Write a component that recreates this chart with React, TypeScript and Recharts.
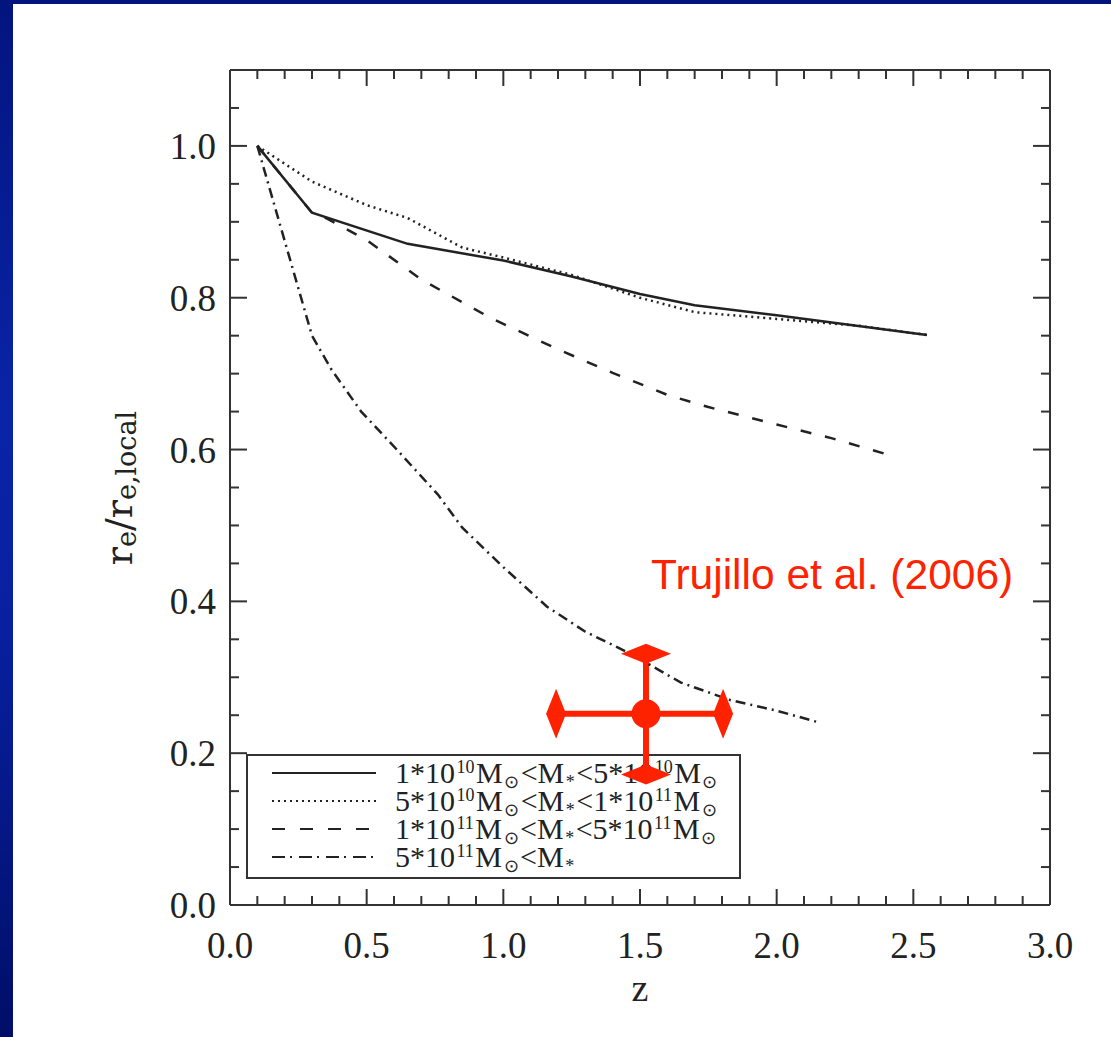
import React from 'react';
import { ComposedChart, Line, Scatter, XAxis, YAxis, ReferenceLine, ReferenceDot, Legend } from 'recharts';

// redshift vs size ratio
const lowZ = [0.1, 0.3, 0.65, 1.0, 1.25, 1.5, 1.7, 2.0, 2.55];
const lowR = [1.0, 0.912, 0.871, 0.849, 0.828, 0.805, 0.79, 0.777, 0.751];

const midZ = [0.1, 0.3, 0.5, 0.65, 0.85, 1.0, 1.25, 1.5, 1.7, 2.0, 2.3, 2.55];
const midR = [1.0, 0.953, 0.922, 0.905, 0.866, 0.853, 0.83, 0.8, 0.781, 0.772, 0.763, 0.751];

const highZ = [0.1, 0.3, 0.35, 0.5, 0.7, 0.95, 1.2, 1.4, 1.6, 1.75, 2.0, 2.2, 2.4];
const highR = [1.0, 0.912, 0.905, 0.876, 0.824, 0.774, 0.732, 0.701, 0.672, 0.656, 0.633, 0.615, 0.594];

const topZ = [0.1, 0.3, 0.37, 0.48, 0.61, 0.76, 0.85, 1.0, 1.16, 1.3, 1.46, 1.65, 1.83, 2.0, 2.15];
const topR = [1.0, 0.75, 0.706, 0.65, 0.6, 0.541, 0.497, 0.445, 0.393, 0.36, 0.332, 0.293, 0.27, 0.256, 0.241];

// Trujillo et al. (2006) point with error bars
const trujilloZ = 1.522;
const trujilloR = 0.252;
const trujilloZLow = 1.193;
const trujilloZHigh = 1.804;
const trujilloRLow = 0.172;
const trujilloRHigh = 0.331;

const xTicks = [0, 0.1, 0.2, 0.3, 0.4, 0.5, 0.6, 0.7, 0.8, 0.9, 1.0, 1.1, 1.2, 1.3, 1.4, 1.5, 1.6, 1.7, 1.8, 1.9, 2.0, 2.1, 2.2, 2.3, 2.4, 2.5, 2.6, 2.7, 2.8, 2.9, 3.0];
const yTicks = [0, 0.05, 0.1, 0.15, 0.2, 0.25, 0.3, 0.35, 0.4, 0.45, 0.5, 0.55, 0.6, 0.65, 0.7, 0.75, 0.8, 0.85, 0.9, 0.95, 1.0, 1.05, 1.1];

const RED = '#ff2200';
const INK = '#222';
const FRAME = '#333';

const toPoints = (zs: number[], rs: number[]) => zs.map((z, i) => ({ z, r: rs[i] }));

const isMajorX = (v: number) => Math.abs(v * 2 - Math.round(v * 2)) < 1e-6;
const isMajorY = (v: number) => Math.abs(v * 5 - Math.round(v * 5)) < 1e-6;

const tickFont = { fontFamily: '"Liberation Serif", serif', fontSize: 37, fill: INK };

const BottomTick = ({ x, y, payload }: any) => {
    const major = isMajorX(payload.value);
    return (
        <g>
            <line x1={x} y1={y} x2={x} y2={y - (major ? 16 : 9)} stroke={FRAME} strokeWidth={2} />
            {major && <text x={x} y={y + 53} textAnchor="middle" {...tickFont}>{payload.value.toFixed(1)}</text>}
        </g>
    );
};

const TopTick = ({ x, y, payload }: any) => {
    const major = isMajorX(payload.value);
    return <line x1={x} y1={y} x2={x} y2={y + (major ? 16 : 9)} stroke={FRAME} strokeWidth={2} />;
};

const LeftTick = ({ x, y, payload }: any) => {
    const major = isMajorY(payload.value) && payload.value < 1.05;
    return (
        <g>
            <line x1={x} y1={y} x2={x + (major ? 17 : 9)} y2={y} stroke={FRAME} strokeWidth={2} />
            {major && <text x={x - 14} y={y + 13} textAnchor="end" {...tickFont}>{payload.value.toFixed(1)}</text>}
        </g>
    );
};

const RightTick = ({ x, y, payload }: any) => {
    const major = isMajorY(payload.value);
    return <line x1={x} y1={y} x2={x - (major ? 17 : 9)} y2={y} stroke={FRAME} strokeWidth={2} />;
};

const Diamond = ({ cx, cy, payload }: any) => {
    const w = payload.dir === 'h' ? 10 : 25;
    const h = payload.dir === 'h' ? 25 : 10;
    return <polygon points={`${cx - w},${cy} ${cx},${cy - h} ${cx + w},${cy} ${cx},${cy + h}`} fill={RED} />;
};

const Dotshape = ({ cx, cy }: any) => <circle cx={cx} cy={cy} r={14.5} fill={RED} />;

type Seg = [string, 'n' | 'sup' | 'sub'];
const shift = { n: 0, sup: -10, sub: 5 };

const Rich = ({ x, y, segs, size }: { x: number; y: number; segs: Seg[]; size: number }) => {
    let cur = 0;
    return (
        <text x={x} y={y} fontFamily='"Liberation Serif", serif' fontSize={size} fill={INK}>
            {segs.map(([t, k], i) => {
                const dy = shift[k] - cur;
                cur = shift[k];
                return (
                    <tspan key={i} dx={i === 0 ? 0 : 1.5} dy={dy} fontSize={k === 'n' ? size : size * 0.6}>{t}</tspan>
                );
            })}
        </text>
    );
};

const legendRows: { dash: string; segs: Seg[] }[] = [
    { dash: '', segs: [['1*10', 'n'], ['10', 'sup'], ['M', 'n'], ['⊙', 'sub'], ['<M', 'n'], ['*', 'sub'], ['<5*10', 'n'], ['10', 'sup'], ['M', 'n'], ['⊙', 'sub']] },
    { dash: '2 4', segs: [['5*10', 'n'], ['10', 'sup'], ['M', 'n'], ['⊙', 'sub'], ['<M', 'n'], ['*', 'sub'], ['<1*10', 'n'], ['11', 'sup'], ['M', 'n'], ['⊙', 'sub']] },
    { dash: '13 15', segs: [['1*10', 'n'], ['11', 'sup'], ['M', 'n'], ['⊙', 'sub'], ['<M', 'n'], ['*', 'sub'], ['<5*10', 'n'], ['11', 'sup'], ['M', 'n'], ['⊙', 'sub']] },
    { dash: '13 5 2 7', segs: [['5*10', 'n'], ['11', 'sup'], ['M', 'n'], ['⊙', 'sub'], ['<M', 'n'], ['*', 'sub']] },
];

const LegendBox = () => (
    <svg width={495} height={125} style={{ display: 'block' }}>
        <rect x={1} y={1} width={493} height={123} fill="none" stroke={FRAME} strokeWidth={2} />
        {legendRows.map((row, i) => {
            const cy = 19 + i * 28;
            return (
                <g key={i}>
                    <line x1={26} y1={cy} x2={130} y2={cy} stroke={INK} strokeWidth={2} strokeDasharray={row.dash || undefined} />
                    <Rich x={149} y={cy + 10} segs={row.segs} size={30} />
                </g>
            );
        })}
    </svg>
);

const YTitle = ({ viewBox }: any) => {
    const cx = viewBox.x + 12;
    const cy = 488;
    return (
        <text x={cx} y={cy} textAnchor="middle" transform={`rotate(-90, ${cx}, ${cy})`} fontFamily='"DejaVu Serif", serif' fill={INK}>
            <tspan fontSize={38}>r</tspan>
            <tspan fontSize={27} dy={4}>e</tspan>
            <tspan fontSize={38} dy={-4}>/</tspan>
            <tspan fontSize={38}>r</tspan>
            <tspan fontSize={27} dy={4}>e,local</tspan>
        </text>
    );
};

const XTitle = ({ viewBox }: any) => (
    <text x={viewBox.x + viewBox.width / 2} y={viewBox.y + 96} textAnchor="middle" fontFamily='"Liberation Serif", serif' fontSize={38} fill={INK}>z</text>
);

const TrujilloLabel = ({ viewBox }: any) => (
    <text x={viewBox.x} y={viewBox.y} fontFamily='"Liberation Sans", Arial, sans-serif' fontSize={42.5} fill={RED}>Trujillo et al. (2006)</text>
);

// white slide area with the blue band on the left and top
const slideBg = 'linear-gradient(#fff, #fff) 13px 4px / 1098px 1033px no-repeat, linear-gradient(180deg, #02147e 0%, #0a24a8 40%, #0820a0 60%, #000e68 100%)';

const SizeEvolutionChart: React.FC = () => {
    const tips = [
        { z: trujilloZLow, r: trujilloR, dir: 'h' },
        { z: trujilloZHigh, r: trujilloR, dir: 'h' },
        { z: trujilloZ, r: trujilloRLow, dir: 'v' },
        { z: trujilloZ, r: trujilloRHigh, dir: 'v' },
    ];
    return (
        <div style={{ position: 'absolute', left: 0, top: 0, width: 1111, height: 1037, background: slideBg, zIndex: 0 }}>
            <ComposedChart width={1111} height={1037} margin={{ top: 69, right: 60, bottom: 52, left: 120 }}>
                <XAxis dataKey="z" type="number" domain={[0, 3]} allowDataOverflow ticks={xTicks} interval={0} height={80}
                    tickSize={0} tickMargin={0} tickLine={false} tick={<BottomTick />}
                    axisLine={{ stroke: FRAME, strokeWidth: 2 }} label={<XTitle />} />
                <XAxis xAxisId="top" orientation="top" dataKey="z" type="number" domain={[0, 3]} allowDataOverflow ticks={xTicks} interval={0} height={1}
                    tickSize={0} tickMargin={0} tickLine={false} tick={<TopTick />}
                    axisLine={{ stroke: FRAME, strokeWidth: 2 }} />
                <YAxis type="number" domain={[0, 1.1]} allowDataOverflow ticks={yTicks} interval={0} width={110}
                    tickSize={0} tickMargin={0} tickLine={false} tick={<LeftTick />}
                    axisLine={{ stroke: FRAME, strokeWidth: 2 }} label={<YTitle />} />
                <YAxis yAxisId="right" orientation="right" type="number" domain={[0, 1.1]} allowDataOverflow ticks={yTicks} interval={0} width={1}
                    tickSize={0} tickMargin={0} tickLine={false} tick={<RightTick />}
                    axisLine={{ stroke: FRAME, strokeWidth: 2 }} />
                <Legend layout="horizontal" verticalAlign="middle" align="center"
                    wrapperStyle={{ left: 246, top: 754, width: 495, height: 125, zIndex: -1 }} content={() => <LegendBox />} />

                <ReferenceLine segment={[{ x: trujilloZLow, y: trujilloR }, { x: trujilloZHigh, y: trujilloR }]} stroke={RED} strokeWidth={6} />
                <ReferenceLine segment={[{ x: trujilloZ, y: trujilloRLow }, { x: trujilloZ, y: trujilloRHigh }]} stroke={RED} strokeWidth={6} />
                <Scatter data={tips} dataKey="r" shape={<Diamond />} isAnimationActive={false} />
                <Scatter data={[{ z: trujilloZ, r: trujilloR }]} dataKey="r" shape={<Dotshape />} isAnimationActive={false} />

                <Line data={toPoints(lowZ, lowR)} dataKey="r" stroke={INK} strokeWidth={2.5} dot={false} isAnimationActive={false} />
                <Line data={toPoints(midZ, midR)} dataKey="r" stroke={INK} strokeWidth={2.5} strokeDasharray="2 4" dot={false} isAnimationActive={false} />
                <Line data={toPoints(highZ, highR)} dataKey="r" stroke={INK} strokeWidth={2.5} strokeDasharray="11 14" dot={false} isAnimationActive={false} />
                <Line data={toPoints(topZ, topR)} dataKey="r" stroke={INK} strokeWidth={2.5} strokeDasharray="10 5 2 5" dot={false} isAnimationActive={false} />

                <ReferenceDot x={1.544} y={0.4156} r={1} fill="none" stroke="none" label={<TrujilloLabel />} />
            </ComposedChart>
        </div>
    );
};

export default function App() {
    return <SizeEvolutionChart />;
}
